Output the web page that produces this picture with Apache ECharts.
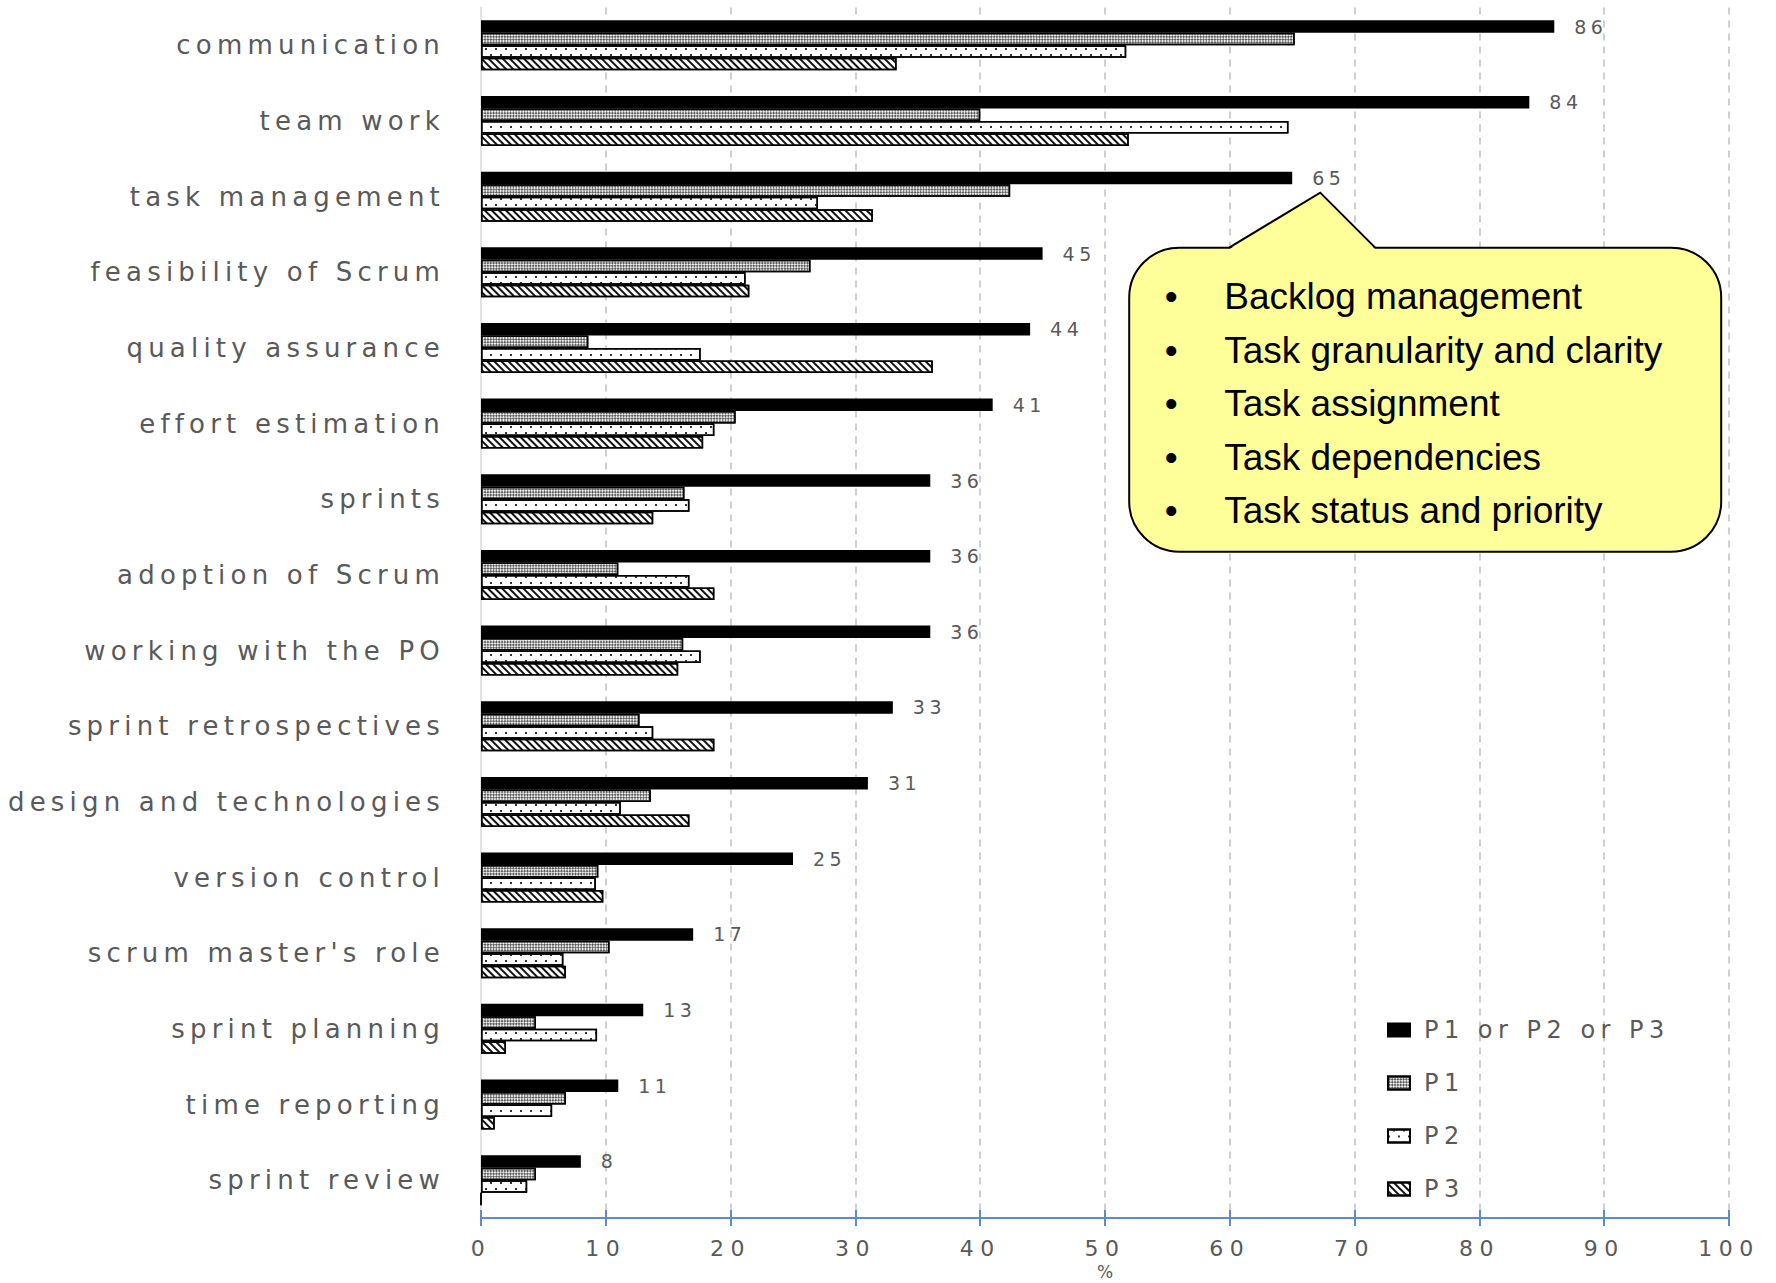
<!DOCTYPE html>
<html>
<head>
<meta charset="utf-8">
<title>Reported challenges by phase</title>
<script src="https://cdn.jsdelivr.net/npm/echarts@6.0.0/dist/echarts.min.js"></script>
<style>
  html, body { margin: 0; padding: 0; background: #ffffff; }
  #chart { width: 1776px; height: 1283px; }
  /* wide tracking for the DejaVu chart text (svg renderer) */
  #chart svg text[style*="26px"] { letter-spacing: 5.2px; }
  #chart svg text[style*="24px"] { letter-spacing: 5.5px; }
  #chart svg text[style*="22px"] { letter-spacing: 6.5px; }
  #chart svg text[style*="19px"] { letter-spacing: 4.5px; }
</style>
</head>
<body>
<div id="chart"></div>
<script>
// ---- data -------------------------------------------------------------
const categories = [
  'communication', 'team work', 'task management', 'feasibility of Scrum',
  'quality assurance', 'effort estimation', 'sprints', 'adoption of Scrum',
  'working with the PO', 'sprint retrospectives', 'design and technologies',
  'version control', "scrum master's role", 'sprint planning',
  'time reporting', 'sprint review'
];
const seriesNames = ['P1 or P2 or P3', 'P1', 'P2', 'P3'];

// share of teams (%) reporting each topic in any phase / in each phase
const anyPhase = [86, 84, 65, 45, 44, 41, 36, 36, 36, 33, 31, 25, 17, 13, 11, 8];
const phase1   = [65.2, 40.0, 42.4, 26.4, 8.6, 20.4, 16.3, 11.0, 16.2, 12.7, 13.6, 9.4, 10.3, 4.4, 6.8, 4.4];
const phase2   = [51.7, 64.7, 27.0, 21.2, 17.6, 18.7, 16.7, 16.7, 17.6, 13.8, 11.2, 9.2, 6.6, 9.3, 5.7, 3.7];
const phase3   = [33.3, 51.9, 31.4, 21.5, 36.2, 17.8, 13.8, 18.7, 15.8, 18.7, 16.7, 9.8, 6.8, 2.0, 1.1, 0];

const xMin = 0, xMax = 100, xStep = 10;
const axisName = '%';

// sub-topics listed in the note attached to "task management"
const noteItems = [
  'Backlog management',
  'Task granularity and clarity',
  'Task assignment',
  'Task dependencies',
  'Task status and priority'
];
const noteCategory = 2;

// ---- styling ----------------------------------------------------------
const textGray = '#595959';
const chartFont = 'DejaVu Sans';
const axisBlue = '#5b8bd0';

const decals = {
  cross: {
    symbol: 'rect', symbolSize: 1, color: '#5a5a5a',
    dashArrayX: [[2, 2], [0, 2, 2, 0]], dashArrayY: [2, 0],
    rotation: Math.PI / 4
  },
  dots: {
    symbol: 'rect', symbolSize: 1, color: '#333333',
    dashArrayX: [[2, 8], [0, 5, 2, 3]], dashArrayY: [2, 4],
    rotation: 0
  },
  hatch: {
    symbol: 'rect', symbolSize: 1, color: '#111111',
    dashArrayX: [1, 0], dashArrayY: [2, 3],
    rotation: Math.PI / 4
  }
};

function bar(name, data, fill, decal) {
  const s = {
    name: name,
    type: 'bar',
    data: data,
    barWidth: 12.5,
    barGap: '0%',
    itemStyle: { color: fill, borderColor: '#000000', borderWidth: 1.5 }
  };
  if (decal) s.itemStyle.decal = decal;
  return s;
}

const blackSeries = bar(seriesNames[0], anyPhase, '#000000', null);
blackSeries.label = {
  show: true, position: 'right', distance: 20,
  color: textGray, fontFamily: chartFont, fontSize: 19
};

const chart = echarts.init(document.getElementById('chart'), null, {
  renderer: 'svg', width: 1776, height: 1283
});

chart.setOption({
  animation: false,
  backgroundColor: '#ffffff',
  grid: { left: 481, right: 47, top: 7.5, bottom: 65, containLabel: false, outerBoundsMode: 'none' },
  legend: {
    data: seriesNames,
    orient: 'vertical',
    left: 1382, top: 1013,
    itemWidth: 22, itemHeight: 13, itemGap: 29,
    icon: 'rect',
    selectedMode: false,
    textStyle: { color: textGray, fontFamily: chartFont, fontSize: 24, padding: [0, 0, 0, 9] }
  },
  xAxis: [
    {
      type: 'value', min: xMin, max: xMax, interval: xStep, position: 'bottom',
      name: axisName, nameLocation: 'middle', nameGap: 45, nameMoveOverlap: false,
      nameTextStyle: { color: textGray, fontFamily: chartFont, fontSize: 17 },
      axisLine: { show: true, lineStyle: { color: axisBlue, width: 2 } },
      axisTick: { show: true, length: 8, lineStyle: { color: axisBlue, width: 2 } },
      axisLabel: { color: textGray, fontFamily: chartFont, fontSize: 22, margin: 19 },
      splitLine: { show: true, showMinLine: false, lineStyle: { color: '#c0c0c0', width: 1.5, type: [7, 6] } }
    },
    {
      // upper half of the crossing tick marks
      type: 'value', min: xMin, max: xMax, interval: xStep, position: 'bottom',
      axisLine: { show: false },
      axisTick: { show: true, inside: true, length: 8, lineStyle: { color: axisBlue, width: 2 } },
      axisLabel: { show: false },
      splitLine: { show: false }
    }
  ],
  yAxis: {
    type: 'category', data: categories, inverse: true,
    axisLine: { show: true, lineStyle: { color: '#d9d9d9', width: 1.5 } },
    axisTick: { show: false },
    axisLabel: { color: textGray, fontFamily: chartFont, fontSize: 26, margin: 36 },
    splitLine: { show: false }
  },
  series: [
    blackSeries,
    bar(seriesNames[1], phase1, '#eeeeee', decals.cross),
    bar(seriesNames[2], phase2, '#ffffff', decals.dots),
    bar(seriesNames[3], phase3, '#ffffff', decals.hatch)
  ]
});

// ---- speech-bubble note anchored to the "task management" bar -----------
const anchor = chart.convertToPixel({ xAxisIndex: 0, yAxisIndex: 0 },
  [anyPhase[noteCategory], noteCategory]);
const tipX = anchor[0] + 28;
const tipY = anchor[1] - 4;
const boxL = tipX - 191, boxT = tipY + 55, boxW = 592, boxH = 304;
const noteFill = '#ffff99';

const noteGraphics = [
  {
    type: 'rect', z: 100,
    shape: { x: boxL, y: boxT, width: boxW, height: boxH, r: 50 },
    style: { fill: noteFill, stroke: '#000000', lineWidth: 2 }
  },
  {
    type: 'polygon', z: 101,
    shape: { points: [[tipX - 91, boxT + 1.6], [tipX, tipY], [tipX + 55, boxT + 1.6]] },
    style: { fill: noteFill }
  },
  {
    type: 'polyline', z: 102,
    shape: { points: [[tipX - 91, boxT], [tipX, tipY], [tipX + 55, boxT]] },
    style: { stroke: '#000000', lineWidth: 2, fill: null }
  }
];
noteItems.forEach(function (item, i) {
  const y = boxT + 49 + i * 53.5;
  noteGraphics.push({
    type: 'text', z: 103, x: boxL + 42, y: y,
    style: { text: '\u2022', fontFamily: 'Liberation Sans', fontSize: 37, fill: '#000000',
             align: 'center', verticalAlign: 'middle' }
  });
  noteGraphics.push({
    type: 'text', z: 103, x: boxL + 95, y: y,
    style: { text: item, fontFamily: 'Liberation Sans', fontSize: 37, fill: '#000000',
             align: 'left', verticalAlign: 'middle' }
  });
});

chart.setOption({ graphic: noteGraphics });
</script>
</body>
</html>
